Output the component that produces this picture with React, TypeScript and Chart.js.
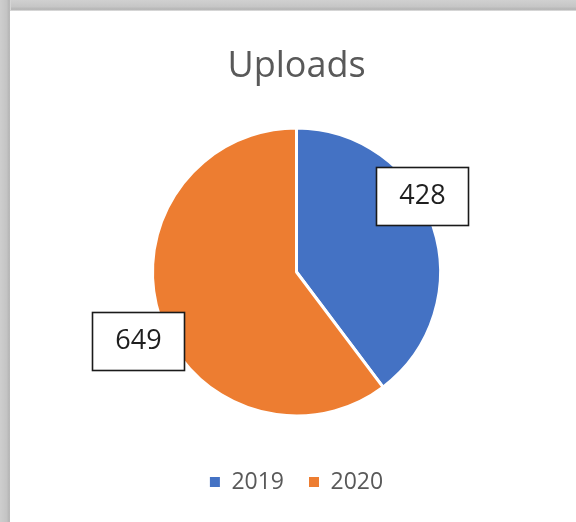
import React, { useEffect, useRef } from "react";
import { Chart, registerables } from "chart.js";

Chart.register(...registerables);

// ---- data ----
const categories: string[] = ["2019", "2020"];
const uploads: number[] = [428, 649];
const sliceColors: string[] = ["#4472C4", "#ED7D31"];
const chartTitle = "Uploads";

// Box labels drawn next to each slice (Excel "best fit" like placement)
const boxLabelPlugin = {
  id: "boxLabels",
  afterDatasetsDraw(chart: any, _args: any, opts: any) {
    const meta = chart.getDatasetMeta(0);
    const ctx: CanvasRenderingContext2D = chart.ctx;
    ctx.save();
    ctx.font = `${opts.fontSize}px ${opts.fontFamily}`;
    meta.data.forEach((arc: any, i: number) => {
      const p = arc.getProps(["x", "y", "startAngle", "endAngle", "outerRadius"], true);
      const place = opts.placement[i];
      const a = (p.startAngle + p.endAngle) / 2 + (place.angle * Math.PI) / 180;
      const r = p.outerRadius * place.radius;
      const cx = p.x + Math.cos(a) * r;
      const cy = p.y + Math.sin(a) * r;
      const text = String(chart.data.datasets[0].data[i]);
      const tw = ctx.measureText(text).width;
      const w = Math.round(tw + opts.padX * 2);
      const h = opts.height;
      const left = Math.round(cx - w / 2) + 0.5;
      const top = Math.round(cy - h / 2) + 0.5;
      ctx.fillStyle = "#ffffff";
      ctx.fillRect(left, top, w, h);
      ctx.strokeStyle = "#1a1a1a";
      ctx.lineWidth = 1.6;
      ctx.strokeRect(left, top, w, h);
      ctx.fillStyle = opts.color;
      ctx.textAlign = "center";
      ctx.textBaseline = "alphabetic";
      ctx.fillText(text, left + w / 2, top + h / 2 + 7);
    });
    ctx.restore();
  },
};

export default function App() {
  const canvasRef = useRef<HTMLCanvasElement | null>(null);

  useEffect(() => {
    const canvas = canvasRef.current;
    if (!canvas) return;
    const chart = new Chart(canvas, {
      type: "pie",
      data: {
        labels: categories,
        datasets: [
          {
            data: uploads,
            backgroundColor: sliceColors,
            borderColor: "#ffffff",
            borderWidth: 3,
            hoverBorderWidth: 3,
            hoverOffset: 0,
            offset: 0,
            radius: 144,
          } as any,
        ],
      },
      options: {
        animation: false,
        responsive: false,
        maintainAspectRatio: false,
        events: [],
        layout: { padding: { left: 7, right: 0, top: 0, bottom: 24.5 } },
        plugins: {
          title: {
            display: true,
            text: chartTitle,
            color: "#595959",
            font: { family: "'Open Sans', sans-serif", size: 36, weight: "normal", lineHeight: 1 },
            padding: { top: 38, bottom: 13.5 },
          },
          legend: {
            display: true,
            position: "bottom",
            maxHeight: 52,
            labels: {
              color: "#595959",
              font: { family: "'Open Sans', sans-serif", size: 23 },
              boxWidth: 10,
              boxHeight: 10,
              padding: 25,
              generateLabels: (ch: any) =>
                Chart.overrides.pie.plugins.legend.labels
                  .generateLabels(ch)
                  .map((it: any) => ({ ...it, lineWidth: 0, strokeStyle: "rgba(0,0,0,0)" })),
            },
          },
          tooltip: { enabled: false },
          boxLabels: {
            fontSize: 27,
            fontFamily: "'Open Sans', sans-serif",
            color: "#1f1f1f",
            padX: 23,
            height: 58,
            placement: [
              { radius: 1.02, angle: -12.7 },
              { radius: 1.2, angle: -5.1 },
            ],
          },
        } as any,
      },
      plugins: [boxLabelPlugin],
    });
    return () => chart.destroy();
  }, []);

  return (
    <div
      style={{
        position: "fixed",
        left: 0,
        top: 0,
        width: 576,
        height: 522,
        background: "#ffffff",
        overflow: "hidden",
      }}
    >
      <div
        style={{
          position: "absolute",
          left: 0,
          top: 0,
          width: 576,
          height: 11,
          background: "linear-gradient(to bottom, #d0d0d0 0%, #c6c6c6 60%, #b4b4b4 85%, #e4e4e4 100%)",
        }}
      />
      <div
        style={{
          position: "absolute",
          left: 0,
          top: 0,
          width: 11,
          height: 522,
          background: "linear-gradient(to right, #cecece 0%, #c4c4c4 60%, #b4b4b4 85%, #e4e4e4 100%)",
        }}
      />
      <canvas
        ref={canvasRef}
        width={566}
        height={511}
        style={{ position: "absolute", left: 10, top: 11, width: 566, height: 511, background: "#ffffff" }}
      />
    </div>
  );
}
